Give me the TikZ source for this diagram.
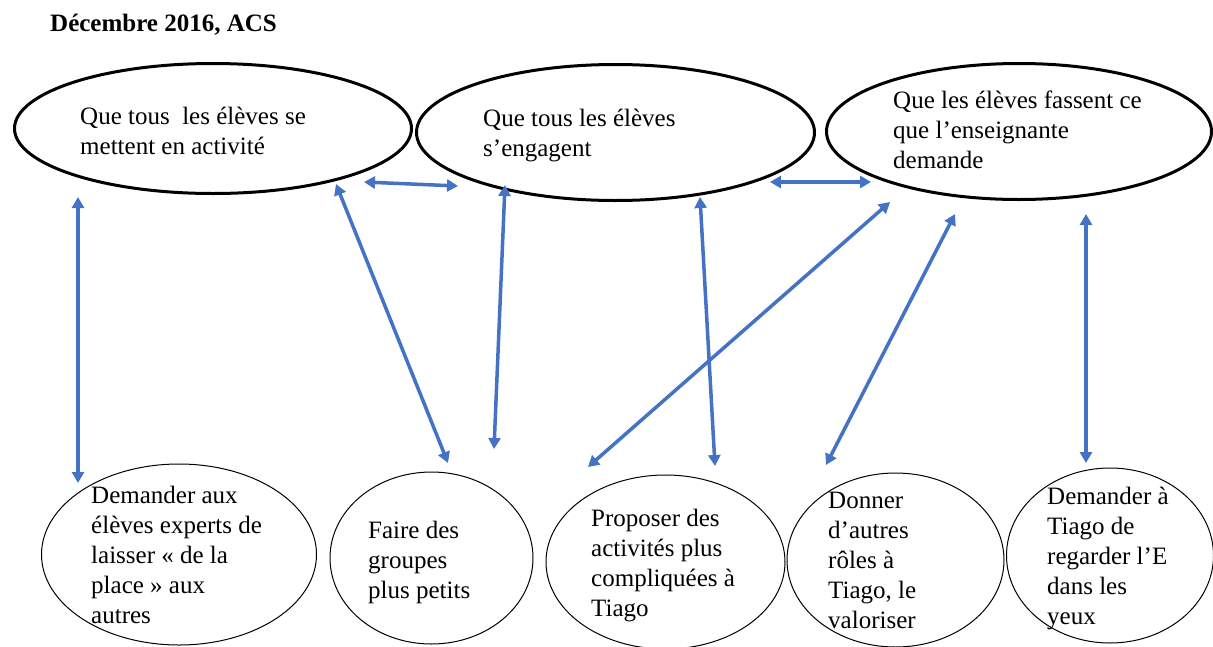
\documentclass[tikz,border=0pt]{standalone}
\usepackage{fontspec}
\setmainfont{Liberation Serif}
\usetikzlibrary{shapes.geometric,arrows.meta}
\definecolor{arrblue}{HTML}{4472C4}
\begin{document}
\begin{tikzpicture}[x=1pt,y=-1pt,
  topell/.style={ellipse, draw=black, line width=3pt, inner sep=0pt},
  botell/.style={ellipse, draw=black, line width=1pt, inner sep=0pt},
  lbl/.style={anchor=base west, inner sep=0pt, font=\fontsize{25}{30}\selectfont},
  arr/.style={draw=arrblue, line width=3.5pt, {Triangle[length=11pt,width=12pt]}-{Triangle[length=11pt,width=12pt]}}]
\useasboundingbox (0,0) rectangle (1213,646);

% title
\node[anchor=base west, inner sep=0pt, font=\bfseries\fontsize{25}{30}\selectfont] (title) at (50,31) {Décembre 2016, ACS};

% top ellipses
\node[topell, minimum width=397pt, minimum height=130pt] (e1) at (213,128.5) {};
\node[topell, minimum width=398pt, minimum height=136pt] (e2) at (615.5,132.5) {};
\node[topell, minimum width=385pt, minimum height=136pt] (e3) at (1019,131.5) {};

\node[lbl] (e1t) at (80,124) {\begin{tabular}[t]{@{}l@{}}Que tous\ \ les élèves se\\mettent en activité\end{tabular}};
\node[lbl] (e2t) at (483,126) {\begin{tabular}[t]{@{}l@{}}Que tous les élèves\\s’engagent\end{tabular}};
\node[lbl] (e3t) at (893,108) {\begin{tabular}[t]{@{}l@{}}Que les élèves fassent ce\\que l’enseignante\\demande\end{tabular}};

% bottom ellipses
\node[botell, minimum width=275pt, minimum height=181pt] (b1) at (179,554.5) {};
\node[botell, minimum width=203pt, minimum height=172pt] (b2) at (431.5,558) {};
\node[botell, minimum width=239pt, minimum height=174pt] (b3) at (665.5,562) {};
\node[botell, minimum width=217pt, minimum height=174pt] (b4) at (895.5,560) {};
\node[botell, minimum width=207pt, minimum height=175pt] (b5) at (1110,555.5) {};

\node[lbl] (b1t) at (91,503) {\begin{tabular}[t]{@{}l@{}}Demander aux\\élèves experts de\\laisser « de la\\place » aux\\autres\end{tabular}};
\node[lbl] (b2t) at (368,538) {\begin{tabular}[t]{@{}l@{}}Faire des\\groupes\\plus petits\end{tabular}};
\node[lbl] (b3t) at (591,526) {\begin{tabular}[t]{@{}l@{}}Proposer des\\activités plus\\compliquées à\\Tiago\end{tabular}};
\node[lbl] (b4t) at (828,508) {\begin{tabular}[t]{@{}l@{}}Donner\\d’autres\\rôles à\\Tiago, le\\valoriser\end{tabular}};
\node[lbl] (b5t) at (1047,504) {\begin{tabular}[t]{@{}l@{}}Demander à\\Tiago de\\regarder l’E\\dans les\\yeux\end{tabular}};

% arrow end points
\coordinate (a1t) at (78,197);   \coordinate (a1b) at (78,483);
\coordinate (a2t) at (336,184);  \coordinate (a2b) at (448,463);
\coordinate (a3l) at (364,182);  \coordinate (a3r) at (458,186);
\coordinate (a4t) at (505,185);  \coordinate (a4b) at (494,449);
\coordinate (a5t) at (700,197);  \coordinate (a5b) at (715,466);
\coordinate (a6l) at (770,182);  \coordinate (a6r) at (871,182);
\coordinate (a7t) at (890,202);  \coordinate (a7b) at (588,467);
\coordinate (a8t) at (955,214);  \coordinate (a8b) at (826,465);
\coordinate (a9t) at (1086,214); \coordinate (a9b) at (1086,463);

\draw[arr] (a1t) -- (a1b);
\draw[arr] (a2t) -- (a2b);
\draw[arr] (a3l) -- (a3r);
\draw[arr] (a4t) -- (a4b);
\draw[arr] (a5t) -- (a5b);
\draw[arr] (a6l) -- (a6r);
\draw[arr] (a7t) -- (a7b);
\draw[arr] (a8t) -- (a8b);
\draw[arr] (a9t) -- (a9b);
\end{tikzpicture}
\end{document}
